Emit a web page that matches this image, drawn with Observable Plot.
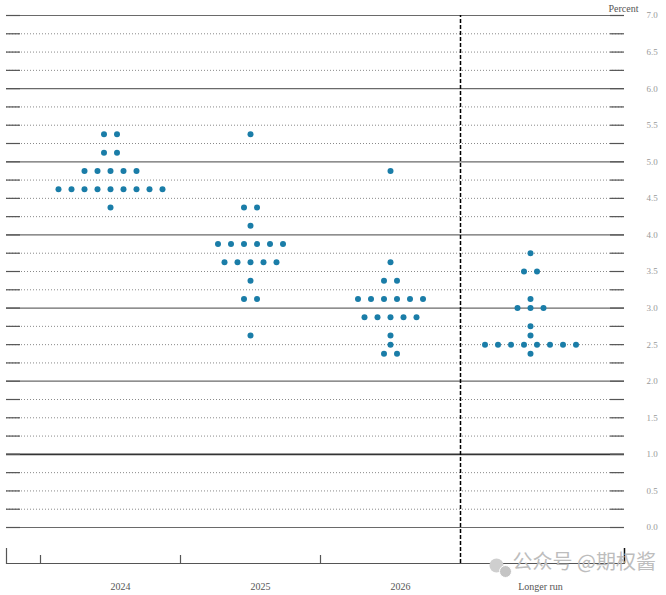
<!DOCTYPE html>
<html><head><meta charset="utf-8">
<script src="https://cdn.jsdelivr.net/npm/d3@7"></script>
<script src="https://cdn.jsdelivr.net/npm/@observablehq/plot@0.6"></script>
<style>body{margin:0;background:#fff}#chart svg{display:block}</style>
</head><body><div id="chart"></div>
<script>
// ---- data ----
const columns = ["2024", "2025", "2026", "Longer run"];
const rates2024 = [5.375, 5.125, 4.875, 4.625, 4.375];
const counts2024 = [2, 2, 5, 9, 1];
const rates2025 = [5.375, 4.375, 4.125, 3.875, 3.625, 3.375, 3.125, 2.625];
const counts2025 = [1, 2, 1, 6, 5, 1, 2, 1];
const rates2026 = [4.875, 3.625, 3.375, 3.125, 2.875, 2.625, 2.5, 2.375];
const counts2026 = [1, 1, 2, 6, 5, 1, 1, 2];
const ratesLR = [3.75, 3.5, 3.125, 3.0, 2.75, 2.625, 2.5, 2.375];
const countsLR = [1, 2, 1, 3, 1, 1, 8, 1];
const yTickLabels = [0, 0.5, 1, 1.5, 2, 2.5, 3, 3.5, 4, 4.5, 5, 5.5, 6, 6.5, 7];
const gridLevels = d3.range(0, 7.001, 0.25);

// ---- build table ----
const series = [[rates2024, counts2024], [rates2025, counts2025], [rates2026, counts2026], [ratesLR, countsLR]];
const step = 13 / 140; // horizontal spacing of dots, in column units
const dots = [];
series.forEach(([rates, counts], ci) => {
  rates.forEach((r, k) => {
    const n = counts[k];
    for (let j = 0; j < n; j++) dots.push({col: ci, rate: r, x: ci + (j - (n - 1) / 2) * step});
  });
});

const W = 666, H = 595;
const xDom = [-104 / 140, 514 / 140];
const yMin = -36 / (512 / 7);
const pxY = 7 / 512;
const pxX = 1 / 140;
const serif = "'Liberation Serif', 'Times New Roman', serif";

const chart = Plot.plot({
  width: W, height: H,
  marginLeft: 6, marginRight: 42, marginTop: 15, marginBottom: 32,
  x: {domain: xDom, axis: null, label: null},
  y: {domain: [yMin, 7], axis: null, label: null},
  style: {background: "#fff", fontFamily: serif},
  marks: [
    Plot.ruleY(gridLevels.filter(v => v % 1 !== 0), {stroke: "#8a8a8a", strokeWidth: 1, strokeDasharray: "1,2"}),
    Plot.ruleY(gridLevels.filter(v => v % 1 === 0 && v !== 1), {stroke: "#6a6a6a", strokeWidth: 1.2}),
    Plot.ruleY([1], {stroke: "#333", strokeWidth: 1.6}),
    Plot.ruleY(gridLevels, {x1: xDom[0], x2: xDom[0] + 14 * pxX, stroke: "#555", strokeWidth: 1.2}),
    Plot.ruleY(gridLevels, {x1: xDom[1] - 14 * pxX, x2: xDom[1], stroke: "#555", strokeWidth: 1.2}),
    Plot.ruleX([2.5], {y1: yMin, y2: 7, stroke: "#000", strokeWidth: 1.5, strokeDasharray: "4,2"}),
    Plot.frame({anchor: "bottom", stroke: "#555", strokeWidth: 1.2}),
    Plot.ruleX([-0.5, 0.5, 1.5], {y1: yMin, y2: yMin + 8 * pxY, stroke: "#555", strokeWidth: 1.2}),
    Plot.ruleX([xDom[0]], {y1: yMin, y2: yMin + 15 * pxY, stroke: "#555", strokeWidth: 1.2}),
    Plot.ruleX([xDom[1]], {y1: yMin, y2: yMin + 15 * pxY, stroke: "#111", strokeWidth: 1.5}),
    Plot.axisX({ticks: [0, 1, 2, 3], tickFormat: i => columns[i], tickSize: 0, tickPadding: 19, dx: 10,
      label: null, fontSize: 10, fill: "#555", fontFamily: serif}),
    Plot.axisY({anchor: "right", ticks: yTickLabels, tickFormat: d3.format(".1f"), tickSize: 0,
      label: null, tickPadding: 22, fontSize: 9, fill: "#999", fontFamily: serif}),
    Plot.text(["Percent"], {frameAnchor: "top-right", dy: -11, dx: -1, textAnchor: "middle",
      fontSize: 10, fill: "#555", fontFamily: serif}),
    Plot.dot([0], {frameAnchor: "bottom-right", dx: -128, dy: 2, r: 7, fill: "#cfcfcf"}),
    Plot.dot([0], {frameAnchor: "bottom-right", dx: -119, dy: 8, r: 6, fill: "#c4c4c4", stroke: "#fff", strokeWidth: 1}),
    Plot.text(["公众号 @期权酱"], {frameAnchor: "bottom-right", dx: -112, dy: 5, textAnchor: "start",
      fontSize: 20, fill: "#bdbdbd", fontFamily: "'Noto Sans CJK SC', sans-serif"}),
    Plot.dot(dots, {x: "x", y: "rate", r: 3, fill: "#1a7da8", stroke: "none"})
  ]
});
document.getElementById("chart").appendChild(chart);
</script>
</body></html>
